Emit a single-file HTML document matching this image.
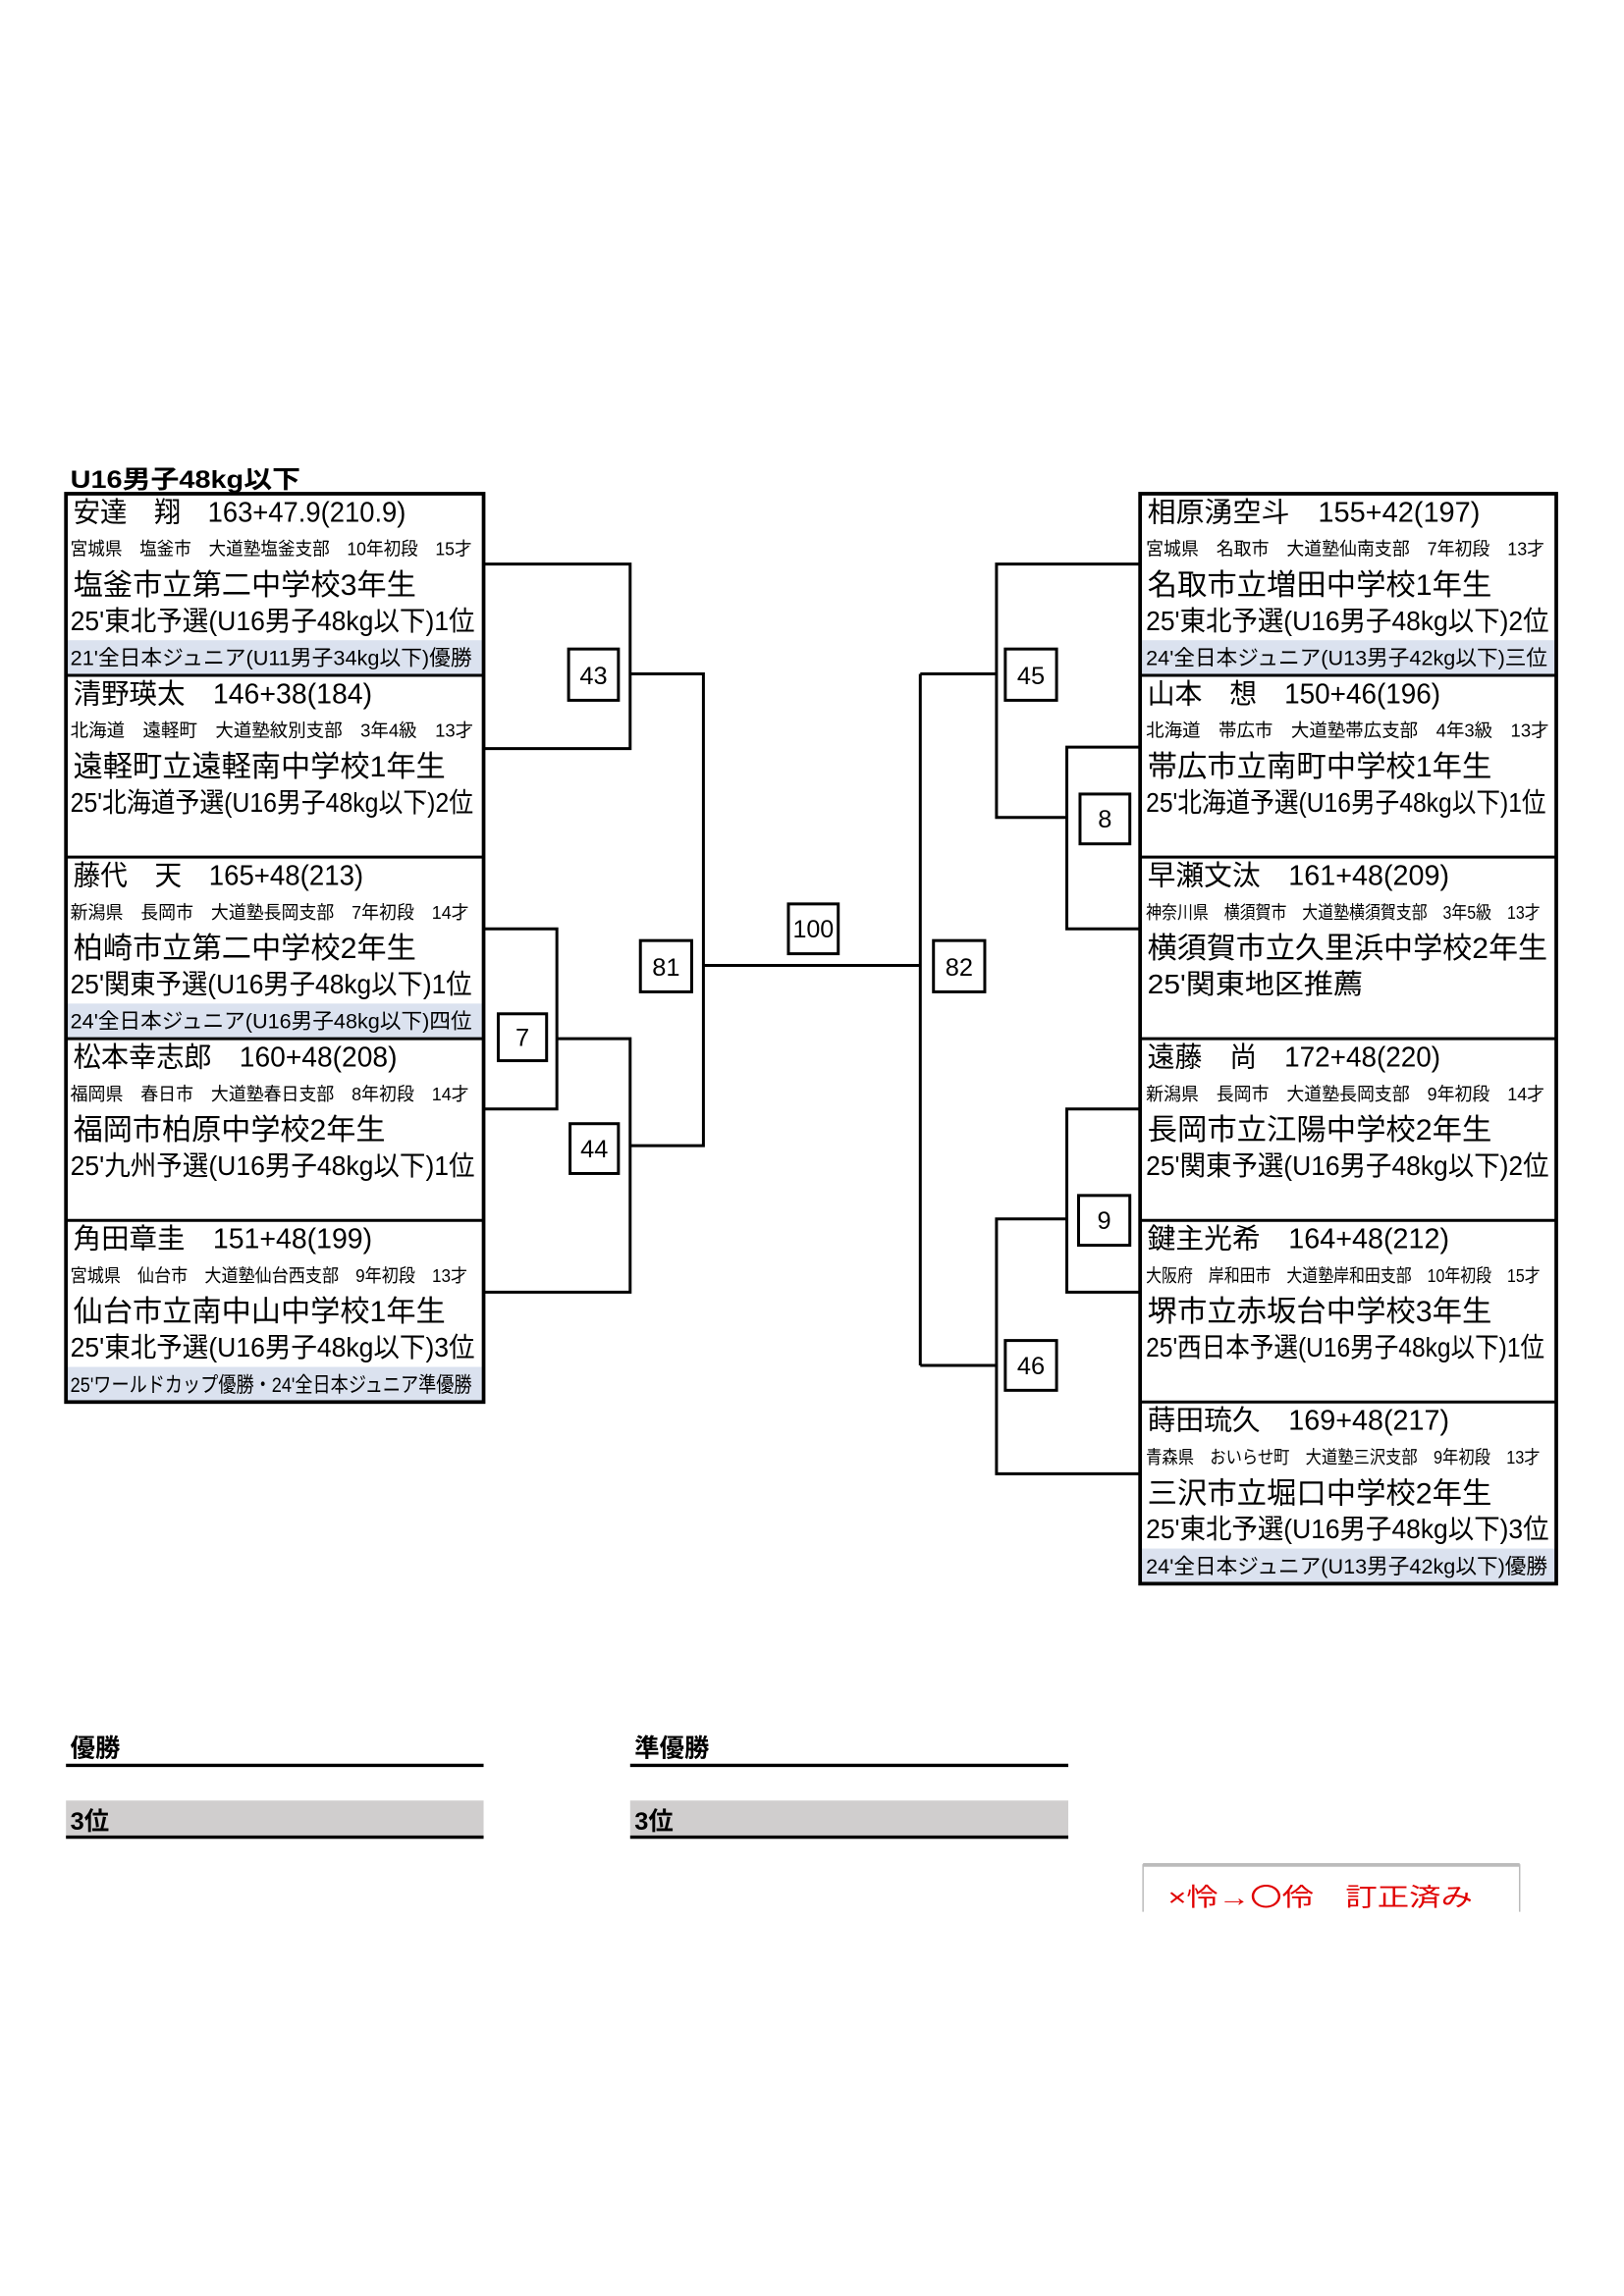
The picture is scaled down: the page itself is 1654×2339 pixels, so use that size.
<!DOCTYPE html>
<html><head><meta charset="utf-8"><style>
html,body{margin:0;padding:0;background:#fff;}
svg{display:block;}
text{font-family:"Liberation Sans","Noto Sans CJK JP",sans-serif;fill:#000;}
.n{font-size:19px}.s{font-size:12.5px}.c{font-size:20px}.r{font-size:18.5px}.b{font-size:14.5px}
.m{font-size:17px}
</style></head><body>
<svg width="1654" height="2339" viewBox="0 0 1108.2 1567.2" xmlns="http://www.w3.org/2000/svg">
<rect width="1108.2" height="1567.2" fill="#fff"/>
<text x="48" y="333" font-size="17" font-weight="bold" textLength="157" lengthAdjust="spacingAndGlyphs">U16男子48kg以下</text>

<g fill="#dbe2ef">
<rect x="46" y="437" width="284" height="24"/>
<rect x="46" y="685" width="284" height="24"/>
<rect x="46" y="933" width="284" height="24"/>
<rect x="779" y="437" width="283" height="24"/>
<rect x="779" y="1057" width="283" height="24"/>
</g>

<g>
<text class="n" x="50" y="356" textLength="227" lengthAdjust="spacingAndGlyphs">安達　翔　163+47.9(210.9)</text>
<text class="s" x="48" y="379" textLength="274" lengthAdjust="spacingAndGlyphs">宮城県　塩釜市　大道塾塩釜支部　10年初段　15才</text>
<text class="c" x="50" y="406" textLength="234" lengthAdjust="spacingAndGlyphs">塩釜市立第二中学校3年生</text>
<text class="r" x="48" y="430" textLength="276" lengthAdjust="spacingAndGlyphs">25'東北予選(U16男子48kg以下)1位</text>
<text class="b" x="48" y="454" textLength="274" lengthAdjust="spacingAndGlyphs">21'全日本ジュニア(U11男子34kg以下)優勝</text>

<text class="n" x="50" y="480" textLength="204" lengthAdjust="spacingAndGlyphs">清野瑛太　146+38(184)</text>
<text class="s" x="48" y="503" textLength="275" lengthAdjust="spacingAndGlyphs">北海道　遠軽町　大道塾紋別支部　3年4級　13才</text>
<text class="c" x="50" y="530" textLength="254" lengthAdjust="spacingAndGlyphs">遠軽町立遠軽南中学校1年生</text>
<text class="r" x="48" y="554" textLength="275" lengthAdjust="spacingAndGlyphs">25'北海道予選(U16男子48kg以下)2位</text>

<text class="n" x="50" y="604" textLength="198" lengthAdjust="spacingAndGlyphs">藤代　天　165+48(213)</text>
<text class="s" x="48" y="627" textLength="272" lengthAdjust="spacingAndGlyphs">新潟県　長岡市　大道塾長岡支部　7年初段　14才</text>
<text class="c" x="50" y="654" textLength="234" lengthAdjust="spacingAndGlyphs">柏崎市立第二中学校2年生</text>
<text class="r" x="48" y="678" textLength="274" lengthAdjust="spacingAndGlyphs">25'関東予選(U16男子48kg以下)1位</text>
<text class="b" x="48" y="702" textLength="274" lengthAdjust="spacingAndGlyphs">24'全日本ジュニア(U16男子48kg以下)四位</text>

<text class="n" x="50" y="728" textLength="221" lengthAdjust="spacingAndGlyphs">松本幸志郎　160+48(208)</text>
<text class="s" x="48" y="751" textLength="272" lengthAdjust="spacingAndGlyphs">福岡県　春日市　大道塾春日支部　8年初段　14才</text>
<text class="c" x="50" y="778" textLength="213" lengthAdjust="spacingAndGlyphs">福岡市柏原中学校2年生</text>
<text class="r" x="48" y="802" textLength="276" lengthAdjust="spacingAndGlyphs">25'九州予選(U16男子48kg以下)1位</text>

<text class="n" x="50" y="852" textLength="204" lengthAdjust="spacingAndGlyphs">角田章圭　151+48(199)</text>
<text class="s" x="48" y="875" textLength="271" lengthAdjust="spacingAndGlyphs">宮城県　仙台市　大道塾仙台西支部　9年初段　13才</text>
<text class="c" x="50" y="902" textLength="254" lengthAdjust="spacingAndGlyphs">仙台市立南中山中学校1年生</text>
<text class="r" x="48" y="926" textLength="276" lengthAdjust="spacingAndGlyphs">25'東北予選(U16男子48kg以下)3位</text>
<text class="b" x="48" y="950" textLength="274" lengthAdjust="spacingAndGlyphs">25'ワールドカップ優勝・24'全日本ジュニア準優勝</text>
</g>

<g>
<text class="n" x="783" y="356" textLength="227" lengthAdjust="spacingAndGlyphs">相原湧空斗　155+42(197)</text>
<text class="s" x="782" y="379" textLength="272" lengthAdjust="spacingAndGlyphs">宮城県　名取市　大道塾仙南支部　7年初段　13才</text>
<text class="c" x="783" y="406" textLength="235" lengthAdjust="spacingAndGlyphs">名取市立増田中学校1年生</text>
<text class="r" x="782" y="430" textLength="275" lengthAdjust="spacingAndGlyphs">25'東北予選(U16男子48kg以下)2位</text>
<text class="b" x="782" y="454" textLength="274" lengthAdjust="spacingAndGlyphs">24'全日本ジュニア(U13男子42kg以下)三位</text>

<text class="n" x="783" y="480" textLength="200" lengthAdjust="spacingAndGlyphs">山本　想　150+46(196)</text>
<text class="s" x="782" y="503" textLength="275" lengthAdjust="spacingAndGlyphs">北海道　帯広市　大道塾帯広支部　4年3級　13才</text>
<text class="c" x="783" y="530" textLength="235" lengthAdjust="spacingAndGlyphs">帯広市立南町中学校1年生</text>
<text class="r" x="782" y="554" textLength="273" lengthAdjust="spacingAndGlyphs">25'北海道予選(U16男子48kg以下)1位</text>

<text class="n" x="783" y="604" textLength="206" lengthAdjust="spacingAndGlyphs">早瀬文汰　161+48(209)</text>
<text class="s" x="782" y="627" textLength="269" lengthAdjust="spacingAndGlyphs">神奈川県　横須賀市　大道塾横須賀支部　3年5級　13才</text>
<text class="c" x="783" y="654" textLength="273" lengthAdjust="spacingAndGlyphs">横須賀市立久里浜中学校2年生</text>
<text class="r" x="783" y="678" textLength="147" lengthAdjust="spacingAndGlyphs">25'関東地区推薦</text>

<text class="n" x="783" y="728" textLength="200" lengthAdjust="spacingAndGlyphs">遠藤　尚　172+48(220)</text>
<text class="s" x="782" y="751" textLength="272" lengthAdjust="spacingAndGlyphs">新潟県　長岡市　大道塾長岡支部　9年初段　14才</text>
<text class="c" x="783" y="778" textLength="235" lengthAdjust="spacingAndGlyphs">長岡市立江陽中学校2年生</text>
<text class="r" x="782" y="802" textLength="275" lengthAdjust="spacingAndGlyphs">25'関東予選(U16男子48kg以下)2位</text>

<text class="n" x="783" y="852" textLength="206" lengthAdjust="spacingAndGlyphs">鍵主光希　164+48(212)</text>
<text class="s" x="782" y="875" textLength="269" lengthAdjust="spacingAndGlyphs">大阪府　岸和田市　大道塾岸和田支部　10年初段　15才</text>
<text class="c" x="783" y="902" textLength="235" lengthAdjust="spacingAndGlyphs">堺市立赤坂台中学校3年生</text>
<text class="r" x="782" y="926" textLength="272" lengthAdjust="spacingAndGlyphs">25'西日本予選(U16男子48kg以下)1位</text>

<text class="n" x="783" y="976" textLength="206" lengthAdjust="spacingAndGlyphs">蒔田琉久　169+48(217)</text>
<text class="s" x="782" y="999" textLength="269" lengthAdjust="spacingAndGlyphs">青森県　おいらせ町　大道塾三沢支部　9年初段　13才</text>
<text class="c" x="783" y="1026" textLength="235" lengthAdjust="spacingAndGlyphs">三沢市立堀口中学校2年生</text>
<text class="r" x="782" y="1050" textLength="275" lengthAdjust="spacingAndGlyphs">25'東北予選(U16男子48kg以下)3位</text>
<text class="b" x="782" y="1074" textLength="274" lengthAdjust="spacingAndGlyphs">24'全日本ジュニア(U13男子42kg以下)優勝</text>
</g>

<g fill="none" stroke="#000">
<rect x="45" y="337" width="285" height="620" stroke-width="2.5"/>
<rect x="778" y="337" width="284" height="744" stroke-width="2.5"/>
<path d="M45 461H330M45 585H330M45 709H330M45 833H330" stroke-width="2"/>
<path d="M778 461H1062M778 585H1062M778 709H1062M778 833H1062M778 957H1062" stroke-width="2"/>
</g>

<g fill="none" stroke="#000" stroke-width="2">
<path d="M330 385H430V511H330"/>
<path d="M430 460H480V782H430"/>
<path d="M330 634H380V757H330"/>
<path d="M380 709H430V882H330"/>
<path d="M480 659H628"/>
<path d="M628 460V932"/>
<path d="M628 460H680M778 385H680V558H728"/>
<path d="M778 510H728V634H778"/>
<path d="M628 932H680M728 832H680V1006H778"/>
<path d="M778 757H728V882H778"/>
</g>

<g stroke="#000" stroke-width="2" fill="#fff">
<rect x="388" y="443" width="34" height="35"/>
<rect x="437" y="642" width="35" height="35"/>
<rect x="340" y="692" width="33" height="32"/>
<rect x="389" y="767" width="33" height="34"/>
<rect x="538" y="617" width="34" height="34"/>
<rect x="637" y="642" width="35" height="35"/>
<rect x="686" y="443" width="35" height="35"/>
<rect x="737" y="542" width="34" height="34"/>
<rect x="736" y="816" width="35" height="34"/>
<rect x="686" y="915" width="35" height="34"/>
</g>
<g class="m" text-anchor="middle" font-size="17">
<text x="405" y="467">43</text>
<text x="454.5" y="666">81</text>
<text x="356.5" y="714">7</text>
<text x="405.5" y="790">44</text>
<text x="555" y="640" textLength="28" lengthAdjust="spacingAndGlyphs">100</text>
<text x="654.5" y="666">82</text>
<text x="703.5" y="467">45</text>
<text x="754" y="565">8</text>
<text x="753.5" y="839">9</text>
<text x="703.5" y="938">46</text>
</g>

<text x="48" y="1199" font-size="17" font-weight="bold">優勝</text>
<path d="M45 1205H330" stroke="#000" stroke-width="2.2"/>
<text x="433" y="1199" font-size="17" font-weight="bold">準優勝</text>
<path d="M430 1205H729" stroke="#000" stroke-width="2.2"/>
<rect x="45" y="1229" width="285" height="24" fill="#d0cece"/>
<rect x="430" y="1229" width="299" height="24" fill="#d0cece"/>
<text x="48" y="1249" font-size="17" font-weight="bold">3位</text>
<text x="433" y="1249" font-size="17" font-weight="bold">3位</text>
<path d="M45 1254H330M430 1254H729" stroke="#000" stroke-width="2.2"/>

<path d="M780 1305V1273H1037V1305" fill="none" stroke="#bbb" stroke-width="1"/>
<path d="M780 1273H1037" stroke="#bbb" stroke-width="2.5"/>
<text x="797" y="1301" font-size="17" style="fill:#e00000" textLength="208" lengthAdjust="spacingAndGlyphs">×怜<tspan font-weight="bold">→</tspan>〇伶　訂正済み</text>
</svg>
</body></html>
